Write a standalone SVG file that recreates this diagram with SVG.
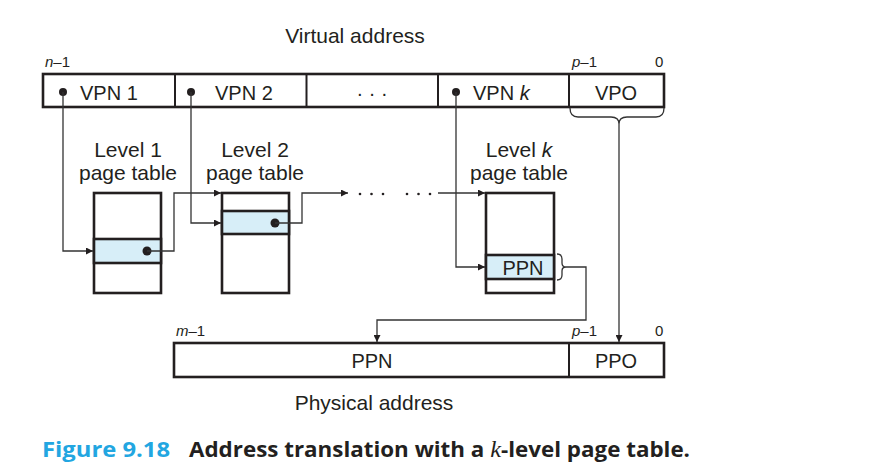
<svg xmlns="http://www.w3.org/2000/svg" width="885" height="474" viewBox="0 0 885 474">
  <defs>
    <style>
      .lbl { font-family: "Liberation Sans", Arial, sans-serif; fill: #231f20; }
      .big { font-size: 20px; }
      .head { font-size: 21px; }
      .small { font-size: 15px; }
      .box { fill: #ffffff; stroke: #231f20; stroke-width: 2.6; }
      .hl { fill: #d7eef8; stroke: #231f20; stroke-width: 2.6; }
      .div { stroke: #231f20; stroke-width: 2; }
      .wire { fill: none; stroke: #333333; stroke-width: 1.3; }
      .dot { fill: #231f20; }
      .cap { font-family: "Open Sans", "Liberation Sans", sans-serif; font-size: 22px; font-weight: 700; }
    </style>
    <marker id="arr" viewBox="0 0 10 10" refX="10" refY="5" markerWidth="8" markerHeight="7" markerUnits="userSpaceOnUse" orient="auto">
      <path d="M0,0 L10,5 L0,10 z" fill="#231f20"/>
    </marker>
  </defs>

  <!-- Virtual address -->
  <g id="virtual-address">
    <text class="lbl head" x="355" y="43" text-anchor="middle">Virtual address</text>
    <text class="lbl small" x="45" y="67"><tspan font-style="italic">n</tspan>–1</text>
    <text class="lbl small" x="572" y="67"><tspan font-style="italic">p</tspan>–1</text>
    <text class="lbl small" x="655" y="67">0</text>
    <rect class="box" x="43" y="74" width="621" height="33"/>
    <line class="div" x1="175" y1="74" x2="175" y2="107"/>
    <line class="div" x1="306.5" y1="74" x2="306.5" y2="107"/>
    <line class="div" x1="438" y1="74" x2="438" y2="107"/>
    <line class="div" x1="569" y1="74" x2="569" y2="107"/>
    <circle class="dot" cx="63" cy="92" r="4"/>
    <text class="lbl big" x="80" y="100">VPN 1</text>
    <circle class="dot" cx="191" cy="92" r="4"/>
    <text class="lbl big" x="215" y="100">VPN 2</text>
    <text class="lbl big" x="372" y="100" text-anchor="middle">· · ·</text>
    <circle class="dot" cx="456" cy="92" r="4"/>
    <text class="lbl big" x="473" y="100">VPN <tspan font-style="italic">k</tspan></text>
    <text class="lbl big" x="616" y="100" text-anchor="middle">VPO</text>
  </g>

  <!-- Level 1 page table -->
  <g id="level1">
    <text class="lbl head" x="128" y="157" text-anchor="middle">Level 1</text>
    <text class="lbl head" x="128" y="180" text-anchor="middle">page table</text>
    <rect class="box" x="94" y="193" width="67" height="100"/>
    <rect class="hl" x="94" y="239" width="67" height="24"/>
    <circle class="dot" cx="147" cy="251" r="4.5"/>
  </g>

  <!-- Level 2 page table -->
  <g id="level2">
    <text class="lbl head" x="255" y="157" text-anchor="middle">Level 2</text>
    <text class="lbl head" x="255" y="180" text-anchor="middle">page table</text>
    <rect class="box" x="222" y="193" width="67" height="100"/>
    <rect class="hl" x="222" y="211" width="67" height="23"/>
    <circle class="dot" cx="275" cy="223" r="4.5"/>
  </g>

  <!-- Level k page table -->
  <g id="levelk">
    <text class="lbl head" x="519" y="157" text-anchor="middle">Level <tspan font-style="italic">k</tspan></text>
    <text class="lbl head" x="519" y="180" text-anchor="middle">page table</text>
    <rect class="box" x="486" y="193" width="68" height="100"/>
    <rect class="hl" x="486" y="255" width="68" height="24"/>
    <text class="lbl big" x="523" y="275" text-anchor="middle">PPN</text>
  </g>

  <!-- Physical address -->
  <g id="physical-address">
    <text class="lbl small" x="176" y="336"><tspan font-style="italic">m</tspan>–1</text>
    <text class="lbl small" x="572" y="336"><tspan font-style="italic">p</tspan>–1</text>
    <text class="lbl small" x="655" y="336">0</text>
    <rect class="box" x="174" y="343" width="490" height="34"/>
    <line class="div" x1="569" y1="343" x2="569" y2="377"/>
    <text class="lbl big" x="372" y="368" text-anchor="middle">PPN</text>
    <text class="lbl big" x="616" y="368" text-anchor="middle">PPO</text>
    <text class="lbl head" x="374" y="410" text-anchor="middle">Physical address</text>
  </g>

  <!-- Connectors -->
  <g id="connectors">
    <path class="wire" d="M63,92 V251 H93" marker-end="url(#arr)"/>
    <path class="wire" d="M191,92 V223 H221" marker-end="url(#arr)"/>
    <path class="wire" d="M456,92 V267 H485" marker-end="url(#arr)"/>
    <path class="wire" d="M147,251 H174 V193 H221" marker-end="url(#arr)"/>
    <path class="wire" d="M275,223 H302 V193 H348" marker-end="url(#arr)"/>
    <g class="dot">
      <circle cx="360" cy="194" r="1.3"/>
      <circle cx="371.5" cy="194" r="1.3"/>
      <circle cx="383" cy="194" r="1.3"/>
      <circle cx="407" cy="194" r="1.3"/>
      <circle cx="418.5" cy="194" r="1.3"/>
      <circle cx="430" cy="194" r="1.3"/>
    </g>
    <path class="wire" d="M438,193 H485" marker-end="url(#arr)"/>
    <!-- VPO brace and offset line -->
    <path class="wire" d="M570,108 Q570,117 578,117 H611 Q619,117 619,124 Q619,117 627,117 H656 Q664,117 664,108"/>
    <path class="wire" d="M619,124 V342" marker-end="url(#arr)"/>
    <!-- PPN brace and line to physical PPN -->
    <path class="wire" d="M557,254 Q562,254 562,259 V263 Q562,267 566,267 Q562,267 562,271 V275 Q562,280 557,280"/>
    <path class="wire" d="M566,267 H586 V320 H377 V342" marker-end="url(#arr)"/>
  </g>

  <!-- Caption -->
  <g id="caption">
    <text class="cap" x="42" y="457" fill="#22a6e1" textLength="128" lengthAdjust="spacingAndGlyphs">Figure 9.18</text>
    <text class="cap" x="189" y="457" fill="#231f20" textLength="501" lengthAdjust="spacingAndGlyphs">Address translation with a <tspan font-family="Liberation Serif, serif" font-style="italic" font-weight="normal" font-size="24">k</tspan>-level page table.</text>
  </g>
</svg>
